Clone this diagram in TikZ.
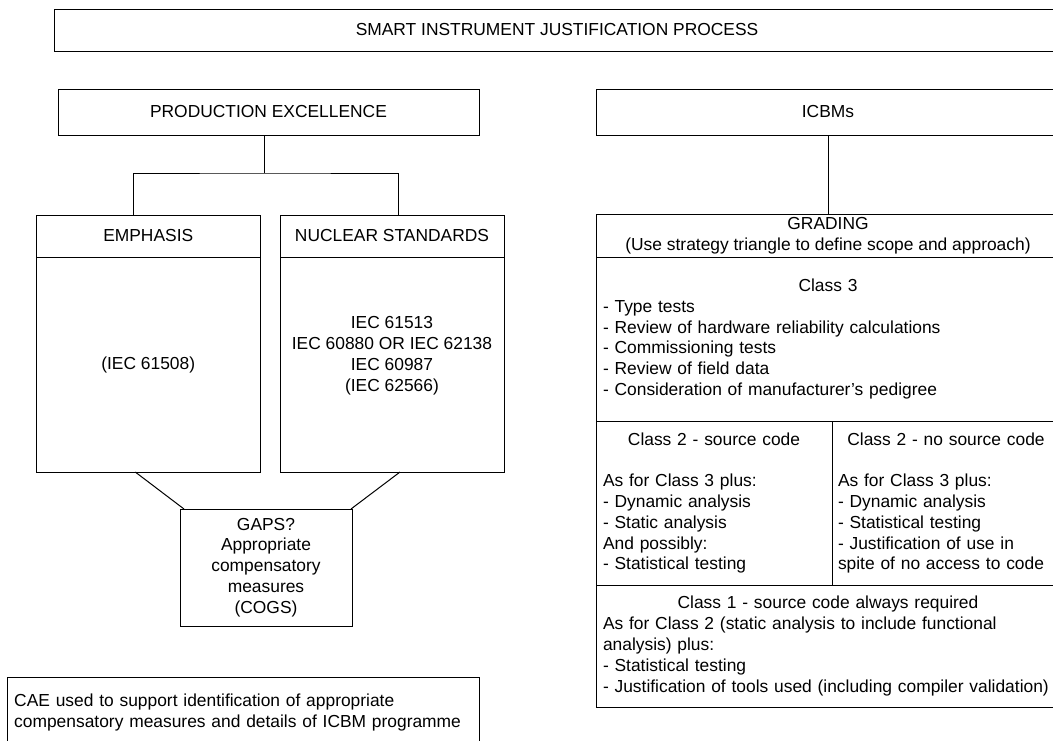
\documentclass[tikz,border=0pt]{standalone}
\usepackage{fontspec}
\setmainfont{Liberation Sans}
\usetikzlibrary{positioning}
\begin{document}
\begin{tikzpicture}[x=1pt,y=-1pt,
		box/.style={draw=black,line width=1pt,rectangle,inner sep=0pt,outer sep=0pt,align=center,font=\fontsize{17.4}{20.8}\selectfont},
		listbox/.style={box,align=left,inner xsep=7pt}]
		\useasboundingbox (0,0) rectangle (1053,740);
		\node [box,minimum width=1006pt,minimum height=42pt] (title) at (557,30) {SMART INSTRUMENT JUSTIFICATION PROCESS};
		\node [box,minimum width=421pt,minimum height=46pt] (pe) at (268.5,112) {PRODUCTION EXCELLENCE};
		\node [box,minimum width=464pt,minimum height=46pt] (icbm) at (828,112) {ICBMs};
		\node [box,minimum width=223.5pt,minimum height=42pt] (emhead) at (148.25,236) {EMPHASIS};
		\node [box,minimum width=223.5pt,minimum height=215pt,below=0pt of emhead] (embody) {(IEC 61508)};
		\node [box,minimum width=224pt,minimum height=42pt] (nuhead) at (392,236) {NUCLEAR STANDARDS};
		\node [box,minimum width=224pt,minimum height=215pt,below=0pt of nuhead] (nubody) {IEC 61513\\IEC 60880 OR IEC 62138\\IEC 60987\\(IEC 62566)\\\mbox{}};
		\node [box,minimum width=172pt,minimum height=117pt] (gaps) at (266,567.5) {GAPS?\\Appropriate\\compensatory\\measures\\(COGS)};
		\node [listbox,text width=458pt,minimum height=71pt] (cae) at (243.2,712.5) {CAE used to support identification of appropriate\\compensatory measures and details of ICBM programme};
		\node [box,minimum width=464pt,minimum height=43pt] (grading) at (828,235.5) {GRADING\\(Use strategy triangle to define scope and approach)};
		\node [listbox,text width=450pt,minimum height=164pt,below=0pt of grading] (cls3) {\hfill Class 3\hfill\null\\- Type tests\\- Review of hardware reliability calculations\\- Commissioning tests\\- Review of field data\\- Consideration of manufacturer’s pedigree};
		\node [listbox,text width=222pt,minimum height=164pt,below right=0pt of cls3.south west] (cls2src) {\hfill Class 2 - source code\hfill\null\\[20.8pt]As for Class 3 plus:\\- Dynamic analysis\\- Static analysis\\And possibly:\\- Statistical testing};
		\node [listbox,text width=216pt,inner xsep=6pt,minimum height=164pt,below left=0pt of cls3.south east] (cls2nosrc) {\hfill Class 2 - no source code\hfill\null\\[20.8pt]As for Class 3 plus:\\- Dynamic analysis\\- Statistical testing\\- Justification of use in\\spite of no access to code};
		\node [listbox,text width=450pt,minimum height=122pt,anchor=north] (cls1) at (cls2src.south -| cls3.south) {\hfill Class 1 - source code always required\hfill\null\\As for Class 2 (static analysis to include functional\\analysis) plus:\\- Statistical testing\\\mbox{- Justification of tools used (including compiler validation)}};
		\draw [black,line width=1pt] ([xshift=-4pt]pe.south) -- ++(0,38) coordinate (pesplit);
		\draw [black,line width=1pt] ([xshift=-15pt]emhead.north) |- (pesplit) -| ([xshift=6pt]nuhead.north);
		\draw [black,line width=1pt] ([xshift=-13pt]embody.south) -- ([xshift=4pt]gaps.north west);
		\draw [black,line width=1pt] ([xshift=8pt]nubody.south) -- ([xshift=-1pt]gaps.north east);
		\draw [black,line width=1pt] (icbm.south) -- (grading.north);
	\end{tikzpicture}
\end{document}
